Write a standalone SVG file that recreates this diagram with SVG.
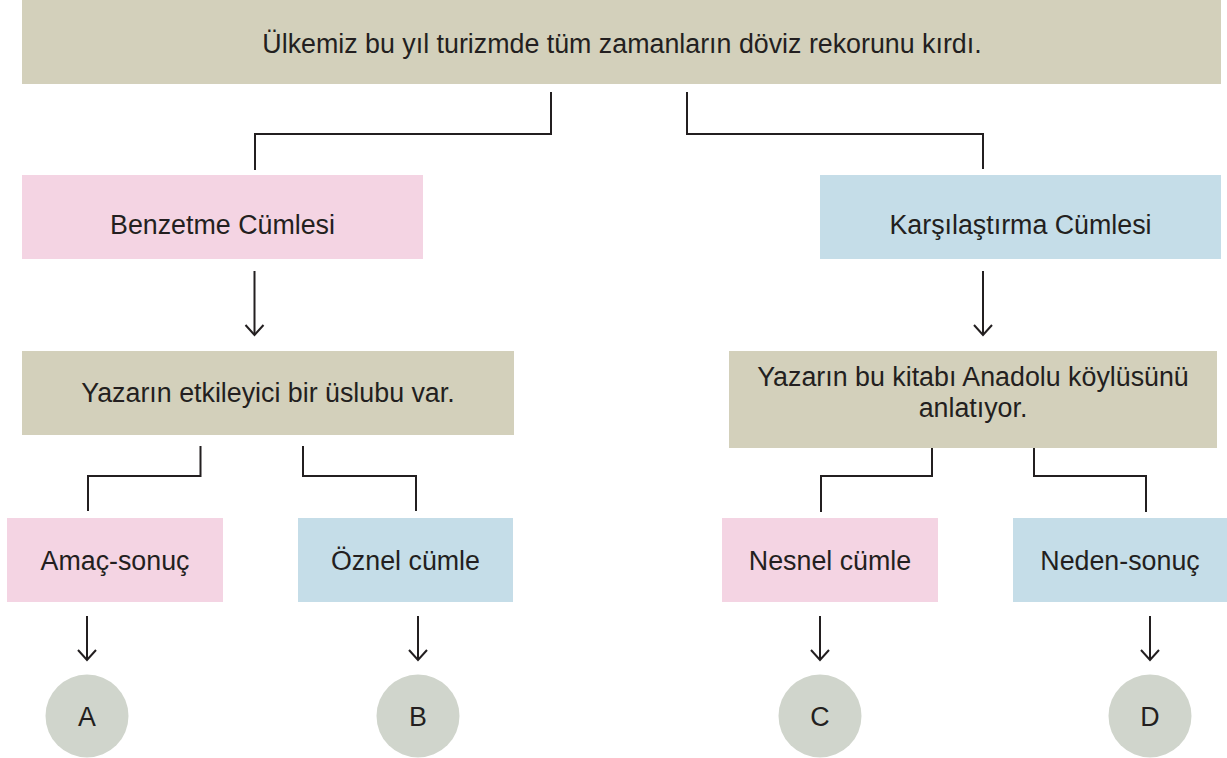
<svg xmlns="http://www.w3.org/2000/svg" width="1227" height="758" viewBox="0 0 1227 758">
<style>
.t{font-family:"Liberation Sans",Arial,sans-serif;font-size:26.8px;fill:#231f20;text-anchor:middle}
.beige{fill:#d3d0bb}
.pink{fill:#f4d4e3}
.blue{fill:#c5dde8}
.circ{fill:#d0d5cc}
.ln{fill:none;stroke:#231f20;stroke-width:2}
.ar{fill:none;stroke:#231f20;stroke-width:2}
</style>
<rect width="1227" height="758" fill="#ffffff"/>
<g id="n-top"><rect class="beige" x="22" y="0" width="1199" height="84"/><text class="t" x="622" y="53">Ülkemiz bu yıl turizmde tüm zamanların döviz rekorunu kırdı.</text></g>
<g id="n-benzetme"><rect class="pink" x="22" y="175" width="401" height="84"/><text class="t" x="222.5" y="234">Benzetme Cümlesi</text></g>
<g id="n-karsilastirma"><rect class="blue" x="820" y="175" width="401" height="84"/><text class="t" x="1020.5" y="234">Karşılaştırma Cümlesi</text></g>
<g id="n-yazarin1"><rect class="beige" x="22" y="351" width="492" height="84"/><text class="t" x="268" y="402">Yazarın etkileyici bir üslubu var.</text></g>
<g id="n-yazarin2"><rect class="beige" x="729" y="351" width="488" height="97"/><text class="t" x="973" y="386">Yazarın bu kitabı Anadolu köylüsünü</text><text class="t" x="973" y="417">anlatıyor.</text></g>
<g id="n-amac"><rect class="pink" x="7" y="518" width="216" height="84"/><text class="t" x="115" y="570">Amaç-sonuç</text></g>
<g id="n-oznel"><rect class="blue" x="298" y="518" width="215" height="84"/><text class="t" x="405.5" y="570">Öznel cümle</text></g>
<g id="n-nesnel"><rect class="pink" x="722" y="518" width="216" height="84"/><text class="t" x="830" y="570">Nesnel cümle</text></g>
<g id="n-neden"><rect class="blue" x="1013" y="518" width="214" height="84"/><text class="t" x="1120" y="570">Neden-sonuç</text></g>
<g id="n-A"><circle class="circ" cx="87" cy="716" r="41.5"/><text class="t" x="87" y="725.5">A</text></g>
<g id="n-B"><circle class="circ" cx="418" cy="716" r="41.5"/><text class="t" x="418" y="725.5">B</text></g>
<g id="n-C"><circle class="circ" cx="820" cy="716" r="41.5"/><text class="t" x="820" y="725.5">C</text></g>
<g id="n-D"><circle class="circ" cx="1150" cy="716" r="41.5"/><text class="t" x="1150" y="725.5">D</text></g>
<g id="connectors">
<polyline class="ln" points="551,92 551,134 255,134 255,170"/>
<polyline class="ln" points="687,92 687,134 983,134 983,169"/>
<polyline class="ln" points="200.5,446 200.5,476 88,476 88,511"/>
<polyline class="ln" points="303,446 303,476 416,476 416,511"/>
<polyline class="ln" points="932,448 932,476 821,476 821,512"/>
<polyline class="ln" points="1034,448 1034,476 1146,476 1146,512"/>
<line class="ar" x1="254.5" y1="271" x2="254.5" y2="335"/><polyline class="ar" points="245.5,325 254.5,335 263.5,325"/>
<line class="ar" x1="983" y1="271" x2="983" y2="335"/><polyline class="ar" points="974,325 983,335 992,325"/>
<line class="ar" x1="87" y1="616" x2="87" y2="660"/><polyline class="ar" points="78,650 87,660 96,650"/>
<line class="ar" x1="418" y1="616" x2="418" y2="660"/><polyline class="ar" points="409,650 418,660 427,650"/>
<line class="ar" x1="820" y1="616" x2="820" y2="660"/><polyline class="ar" points="811,650 820,660 829,650"/>
<line class="ar" x1="1150" y1="616" x2="1150" y2="660"/><polyline class="ar" points="1141,650 1150,660 1159,650"/>
</g>
</svg>
